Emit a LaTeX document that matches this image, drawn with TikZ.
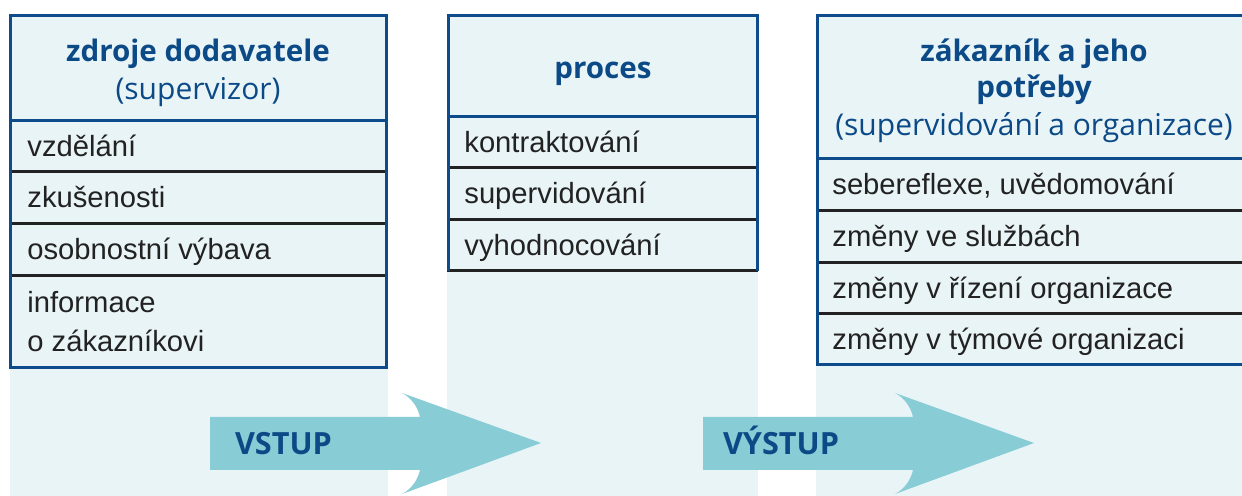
\documentclass[tikz,border=0pt]{standalone}
\usepackage{fontspec}
\setmainfont{Liberation Sans}
\newfontfamily\titlefont{Open Sans}
\usepackage{tikz}

\definecolor{panelbg}{HTML}{E9F4F7}
\definecolor{frameblue}{HTML}{0D4B8B}
\definecolor{titleblue}{HTML}{0B4A86}
\definecolor{flowteal}{HTML}{88CDD5}
\definecolor{itemgray}{HTML}{222222}

\tikzset{
	paneltitle/.style={font=\titlefont\bfseries\fontsize{14.8}{18}\selectfont, text=titleblue, anchor=base, inner sep=0pt},
	panelsub/.style={font=\titlefont\fontsize{15}{18}\selectfont, text=titleblue, anchor=base, inner sep=0pt},
	item/.style={font=\fontsize{14.6}{18}\selectfont, text=itemgray, anchor=base west, inner sep=0pt},
	flowlabel/.style={font=\titlefont\bfseries\fontsize{15.3}{18}\selectfont, text=titleblue, anchor=base, inner sep=0pt},
	frame/.style={line width=1.5pt, color=frameblue},
	divider/.style={line width=1.5pt, color=itemgray},
}

\begin{document}
\begin{tikzpicture}[x=0.5pt, y=-0.5pt]
			%%%%% START %%%%%
			\useasboundingbox (0, 0) rectangle (1242, 496);
			
			% backgrounds of the three columns
			\fill[panelbg] (10, 16) rectangle (388, 496);
			\fill[panelbg] (447, 16) rectangle (758, 496);
			\fill[panelbg] (816, 16) rectangle (1242, 496);
			
			% flow arrows
			\fill[flowteal] (210, 417) -- (420, 417) .. controls (418, 408) and (412, 398) .. (402, 393)
				-- (541, 443) -- (402, 494) .. controls (412, 489) and (418, 479) .. (420, 470) -- (210, 470) -- cycle;
			\fill[flowteal] (703, 417) -- (913, 417) .. controls (911, 408) and (905, 398) .. (895, 393)
				-- (1034, 443) -- (895, 494) .. controls (905, 489) and (911, 479) .. (913, 470) -- (703, 470) -- cycle;
			\node[flowlabel] (vstup) at (283.5, 455) {VSTUP};
			\node[flowlabel] (vystup) at (781, 455) {VÝSTUP};
			
			% left column: zdroje dodavatele
			\draw[divider] (10, 172) -- (386, 172);
			\draw[divider] (10, 224) -- (386, 224);
			\draw[divider] (10, 276) -- (386, 276);
			\draw[frame] (10, 121) -- (386, 121);
			\draw[frame] (10, 16) rectangle (386, 368);
			\node[paneltitle] (srctitle) at (198, 62) {zdroje dodavatele};
			\node[panelsub] (srcsub) at (198, 100) {(supervizor)};
			\node[item] (edu) at (27, 157) {vzdělání};
			\node[item] (exp) at (27, 208) {zkušenosti};
			\node[item] (pers) at (27, 260) {osobnostní výbava};
			\node[item] (infoa) at (27, 313) {informace};
			\node[item] (infob) at (27, 352) {o zákazníkovi};
			
			% middle column: proces
			\draw[divider] (448, 168) -- (757, 168);
			\draw[divider] (448, 220) -- (757, 220);
			\draw[divider] (447, 271) -- (758, 271);
			\draw[frame] (448, 117) -- (757, 117);
			\draw[frame] (448, 271) -- (448, 16) -- (757, 16) -- (757, 271);
			\node[paneltitle] (proctitle) at (603, 79) {proces};
			\node[item] (contract) at (464, 153) {kontraktování};
			\node[item] (superv) at (464, 204) {supervidování};
			\node[item] (evalu) at (464, 256) {vyhodnocování};
			
			% right column: zakaznik
			\draw[divider] (817, 211) -- (1242, 211);
			\draw[divider] (817, 263) -- (1242, 263);
			\draw[divider] (817, 314) -- (1242, 314);
			\draw[frame] (817, 159) -- (1242, 159);
			\draw[frame] (1250, 16) -- (817, 16) -- (817, 365) -- (1250, 365);
			\node[paneltitle] (custtitle) at (1034, 62) {zákazník a jeho};
			\node[paneltitle] (custtitleb) at (1034, 98) {potřeby};
			\node[panelsub] (custsub) at (1034, 136) {(supervidování a organizace)};
			\node[item] (selfref) at (832, 195) {sebereflexe, uvědomování};
			\node[item] (services) at (832, 247) {změny ve službách};
			\node[item] (mgmt) at (832, 299) {změny v řízení organizace};
			\node[item] (team) at (832, 350) {změny v týmové organizaci};
			
			%%%%% END %%%%%
\end{tikzpicture}
\end{document}
